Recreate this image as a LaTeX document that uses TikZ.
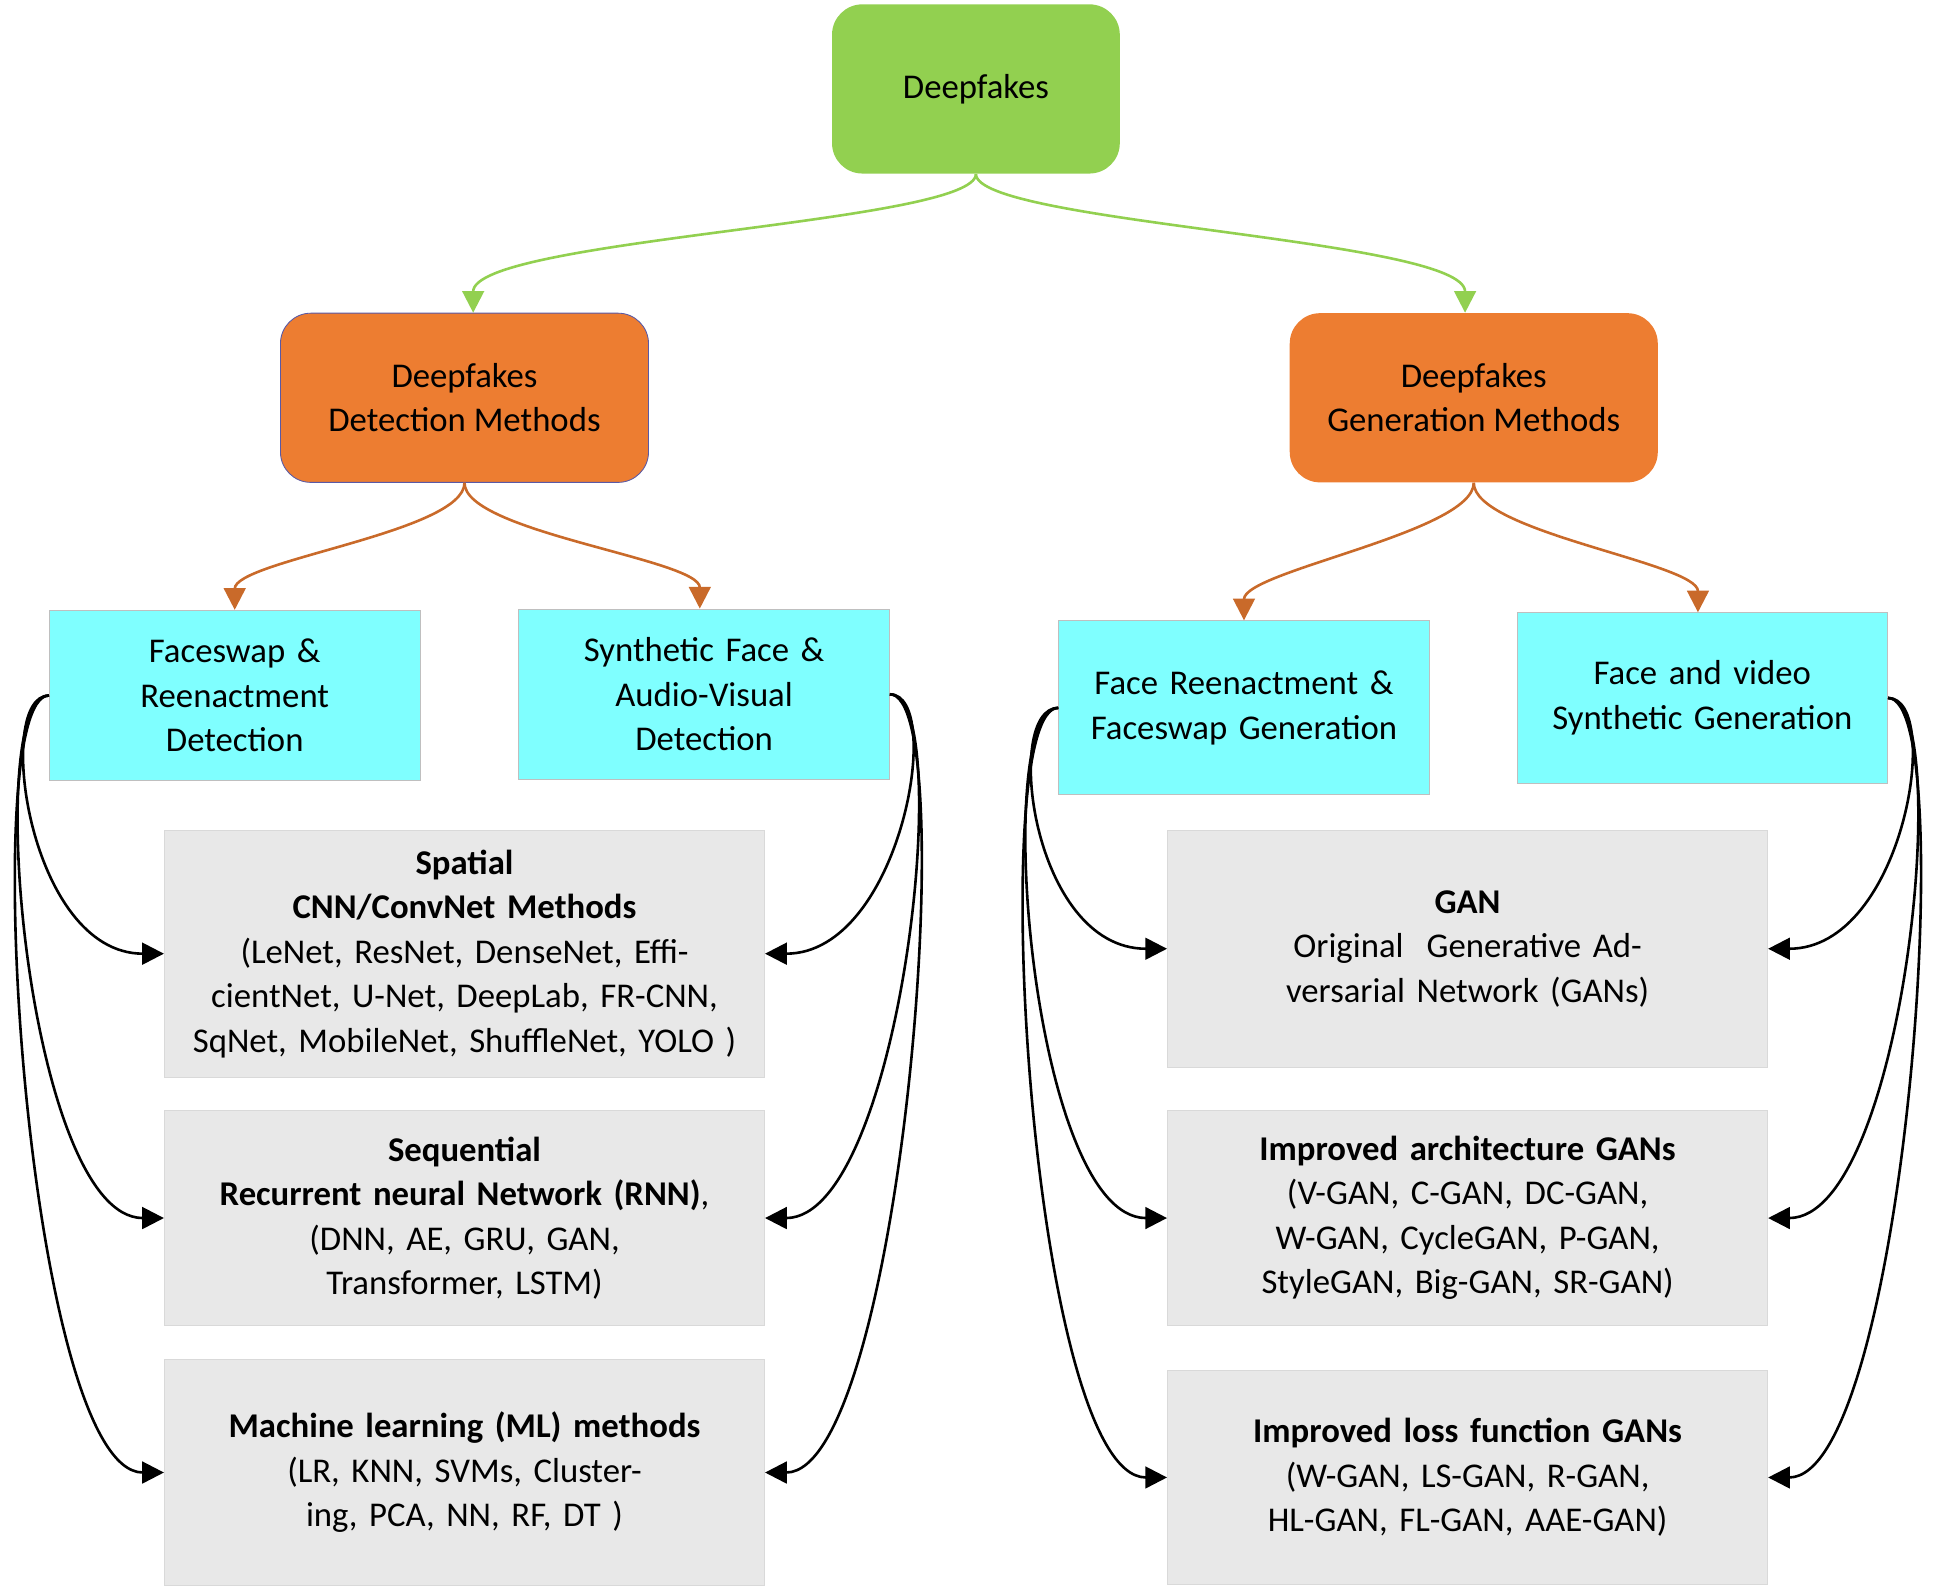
\documentclass[tikz,border=0pt]{standalone}
\usepackage{fontspec}
\setmainfont{Carlito}
\usetikzlibrary{arrows.meta}
\definecolor{topgreen}{HTML}{92D050}
\definecolor{midorange}{HTML}{ED7D31}
\definecolor{subcyan}{HTML}{7FFFFF}
\definecolor{leafgray}{HTML}{E8E8E8}
\tikzset{
  base/.style={align=center,inner sep=2pt,font=\fontsize{16}{20.5}\selectfont},
  root/.style={base,fill=topgreen,rounded corners=14pt,minimum width=4.66cm,minimum height=2.74cm},
  method/.style={base,fill=midorange,rounded corners=14pt,minimum width=5.96cm,minimum height=2.74cm},
  branch/.style={base,fill=subcyan,draw=gray!50,minimum width=6cm,minimum height=2.76cm,text width=5.6cm},
  leaf/.style={base,fill=leafgray,draw=gray!30,minimum width=9.72cm,text width=9.5cm},
  garrow/.style={-{Triangle[length=10pt,width=10pt]},topgreen,line width=1.2pt},
  oarrow/.style={-{Triangle[length=10pt,width=10pt]},midorange!85!black,line width=1.2pt},
  karrow/.style={-{Triangle[length=10pt,width=10pt]},black,line width=1.2pt}
}
\begin{document}
\begin{tikzpicture}[x=0.02cm,y=-0.02cm]
        \useasboundingbox (0,0) rectangle (1568,1287);
        % Nodes
        \node[root] (root) at (790,72) {Deepfakes};
        \node[method,draw=gray!70!blue] (det) at (376,322) {Deepfakes\\Detection Methods};
        \node[method] (gen) at (1193,322) {Deepfakes\\Generation Methods};

        \node[branch] (fsd) at (190,563) {Faceswap \&\\Reenactment\\Detection};
        \node[branch] (sfd) at (570,562) {Synthetic Face \&\\Audio-Visual\\Detection};
        \node[branch,minimum height=2.82cm] (frg) at (1007,573) {Face Reenactment \&\\Faceswap Generation};
        \node[branch] (fvg) at (1378,565) {Face and video\\Synthetic Generation};

        \node[leaf,minimum height=4cm] (spat) at (376,772) {\textbf{Spatial}\\\textbf{CNN/ConvNet Methods}\\(LeNet, ResNet, DenseNet, EfficientNet, U-Net, DeepLab, FR-CNN, SqNet, MobileNet, ShuffleNet, YOLO )};
        \node[leaf,minimum height=3.48cm] (seq) at (376,986) {\textbf{Sequential}\\\textbf{Recurrent neural Network (RNN)},\\(DNN, AE, GRU, GAN, Transformer, LSTM)};
        \node[leaf,minimum height=3.66cm] (ml) at (376,1192) {\textbf{Machine learning (ML) methods}\\(LR, KNN, SVMs, Clustering, PCA, NN, RF, DT )};
        \node[leaf,minimum height=3.84cm] (gan) at (1188,768) {\textbf{GAN}\\Original\ \ Generative Adversarial Network (GANs)\\[20pt]};
        \node[leaf,minimum height=3.48cm] (arch) at (1188,986) {\textbf{Improved architecture GANs}\\(V-GAN, C-GAN, DC-GAN, W-GAN, CycleGAN, P-GAN, StyleGAN, Big-GAN, SR-GAN)};
        \node[leaf,minimum height=3.48cm] (loss) at (1188,1196) {\textbf{Improved loss function GANs}\\(W-GAN, LS-GAN, R-GAN, HL-GAN, FL-GAN, AAE-GAN)\\[20pt]};

        % Arrows
        \draw[garrow] (root.south) .. controls +(0,40) and +(0,-60) .. ([xshift=4pt]det.north);
        \draw[garrow] (root.south) .. controls +(0,40) and +(0,-60) .. ([xshift=-4pt]gen.north);
        \draw[oarrow] (det.south) .. controls +(0,40) and +(0,-40) .. (fsd.north);
        \draw[oarrow] (det.south) .. controls +(0,40) and +(0,-40) .. ([xshift=-2pt]sfd.north);
        \draw[oarrow] (gen.south) .. controls +(0,40) and +(0,-40) .. (frg.north);
        \draw[oarrow] (gen.south) .. controls +(0,40) and +(0,-40) .. ([xshift=-2pt]fvg.north);

        \foreach \t/\d in {spat/-45,seq/-55,ml/-60}
          \draw[karrow] (fsd.west) .. controls +(\d,0) and +(-110,0) .. (\t.west);
        \foreach \t/\d in {spat/45,seq/55,ml/60}
          \draw[karrow] (sfd.east) .. controls +(\d,0) and +(110,0) .. (\t.east);
        \foreach \t/\d in {gan/-45,arch/-55,loss/-60}
          \draw[karrow] (frg.west) .. controls +(\d,0) and +(-110,0) .. (\t.west);
        \foreach \t/\d in {gan/45,arch/55,loss/60}
          \draw[karrow] (fvg.east) .. controls +(\d,0) and +(110,0) .. (\t.east);
\end{tikzpicture}
\end{document}
